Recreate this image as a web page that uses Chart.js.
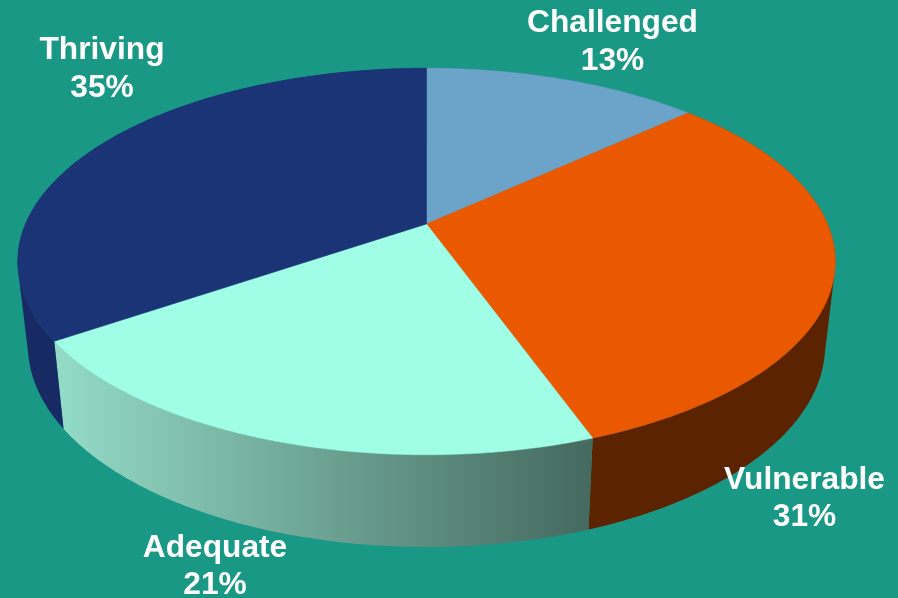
<!DOCTYPE html>
<html>
<head>
<meta charset="utf-8">
<style>html,body{margin:0;padding:0;background:#1a9886;overflow:hidden}canvas{display:block}</style>
<script src="https://cdn.jsdelivr.net/npm/chart.js@4"></script>
</head>
<body>
<canvas id="c" width="898" height="598"></canvas>
<script>
const categories = ['Challenged', 'Vulnerable', 'Adequate', 'Thriving'];
const shares = [13.2, 31.3, 21.0, 34.5];
const shareLabels = ['13%', '31%', '21%', '35%'];
const topColors = ['#6ba3c9', '#ea5800', '#a0fde6', '#1b3476'];

// Styling only
const wallColors = ['#4a7590', '#5c2300', null, '#172a63'];
const labelAnchors = [[612.5, 32], [804.5, 488.5], [215, 556.5], [102, 59]];
const K = -0.194;
const TOP = {cx: 426.5, cy: 224, rx: 401, ry: 186};
const BASE = {cx: 426.5, cy: 306.5, rx: 391, ry: 193.8};

function project(p, a) { // a: canvas angle from the arc element
  const u = Math.cos(a), v = Math.sin(a), d = 1 + K * v;
  return [p.cx + p.rx * u / d, p.cy + p.ry * v / d];
}
function sweep(ctx, p, a0, a1, first) {
  const n = Math.max(2, Math.ceil(Math.abs(a1 - a0) * 90));
  for (let i = 0; i <= n; i++) {
    const q = project(p, a0 + (a1 - a0) * i / n);
    if (i === 0 && first) ctx.moveTo(q[0], q[1]); else ctx.lineTo(q[0], q[1]);
  }
}
function signedArea(pts) {
  let s = 0;
  pts.forEach((p, i) => {
    const q = pts[(i + 1) % pts.length];
    s += p[0] * q[1] - q[0] * p[1];
  });
  return s;
}
const pie3d = {
  id: 'pie3d',
  beforeDatasetsDraw(chart) {
    const ctx = chart.ctx, arcs = chart.getDatasetMeta(0).data;
    ctx.save();
    ctx.fillStyle = '#1a9886';
    ctx.fillRect(0, 0, chart.width, chart.height);
    // side walls: one path of same-wound strips, so the outline is the hull of rim and base
    arcs.forEach((arc, i) => {
      let fill = wallColors[i];
      if (fill === null) {
        fill = ctx.createLinearGradient(55, 0, 592, 0);
        fill.addColorStop(0, '#94dcc7');
        fill.addColorStop(1, '#45695f');
      }
      const steps = Math.ceil((arc.endAngle - arc.startAngle) * 90);
      ctx.beginPath();
      for (let s = 0; s < steps; s++) {
        const a0 = arc.startAngle + (arc.endAngle - arc.startAngle) * s / steps;
        const a1 = arc.startAngle + (arc.endAngle - arc.startAngle) * (s + 1) / steps;
        let quad = [project(TOP, a0), project(TOP, a1), project(BASE, a1), project(BASE, a0)];
        if (signedArea(quad) < 0) quad = quad.reverse();
        quad.forEach((q, k) => k === 0 ? ctx.moveTo(q[0], q[1]) : ctx.lineTo(q[0], q[1]));
        ctx.closePath();
      }
      ctx.fillStyle = fill;
      ctx.fill('nonzero');
    });
    // top faces
    arcs.forEach((arc, i) => {
      ctx.beginPath();
      ctx.moveTo(TOP.cx, TOP.cy);
      sweep(ctx, TOP, arc.startAngle, arc.endAngle, false);
      ctx.closePath();
      ctx.fillStyle = arc.options.backgroundColor;
      ctx.fill();
      ctx.strokeStyle = arc.options.backgroundColor;
      ctx.lineWidth = 0.5;
      ctx.stroke();
    });
    // labels
    ctx.fillStyle = '#ffffff';
    ctx.font = 'bold 31.7px "Liberation Sans", Arial, sans-serif';
    ctx.textAlign = 'center';
    ctx.textBaseline = 'alphabetic';
    categories.forEach((name, i) => {
      ctx.fillText(name, labelAnchors[i][0], labelAnchors[i][1]);
      ctx.fillText(shareLabels[i], labelAnchors[i][0], labelAnchors[i][1] + 37.5);
    });
    ctx.restore();
    return false;
  }
};
new Chart(document.getElementById('c'), {
  type: 'pie',
  data: {
    labels: categories,
    datasets: [{ data: shares, backgroundColor: topColors, borderWidth: 0 }]
  },
  options: {
    responsive: false,
    animation: false,
    plugins: { legend: { display: false }, tooltip: { enabled: false } }
  },
  plugins: [pie3d]
});
</script>
</body>
</html>
